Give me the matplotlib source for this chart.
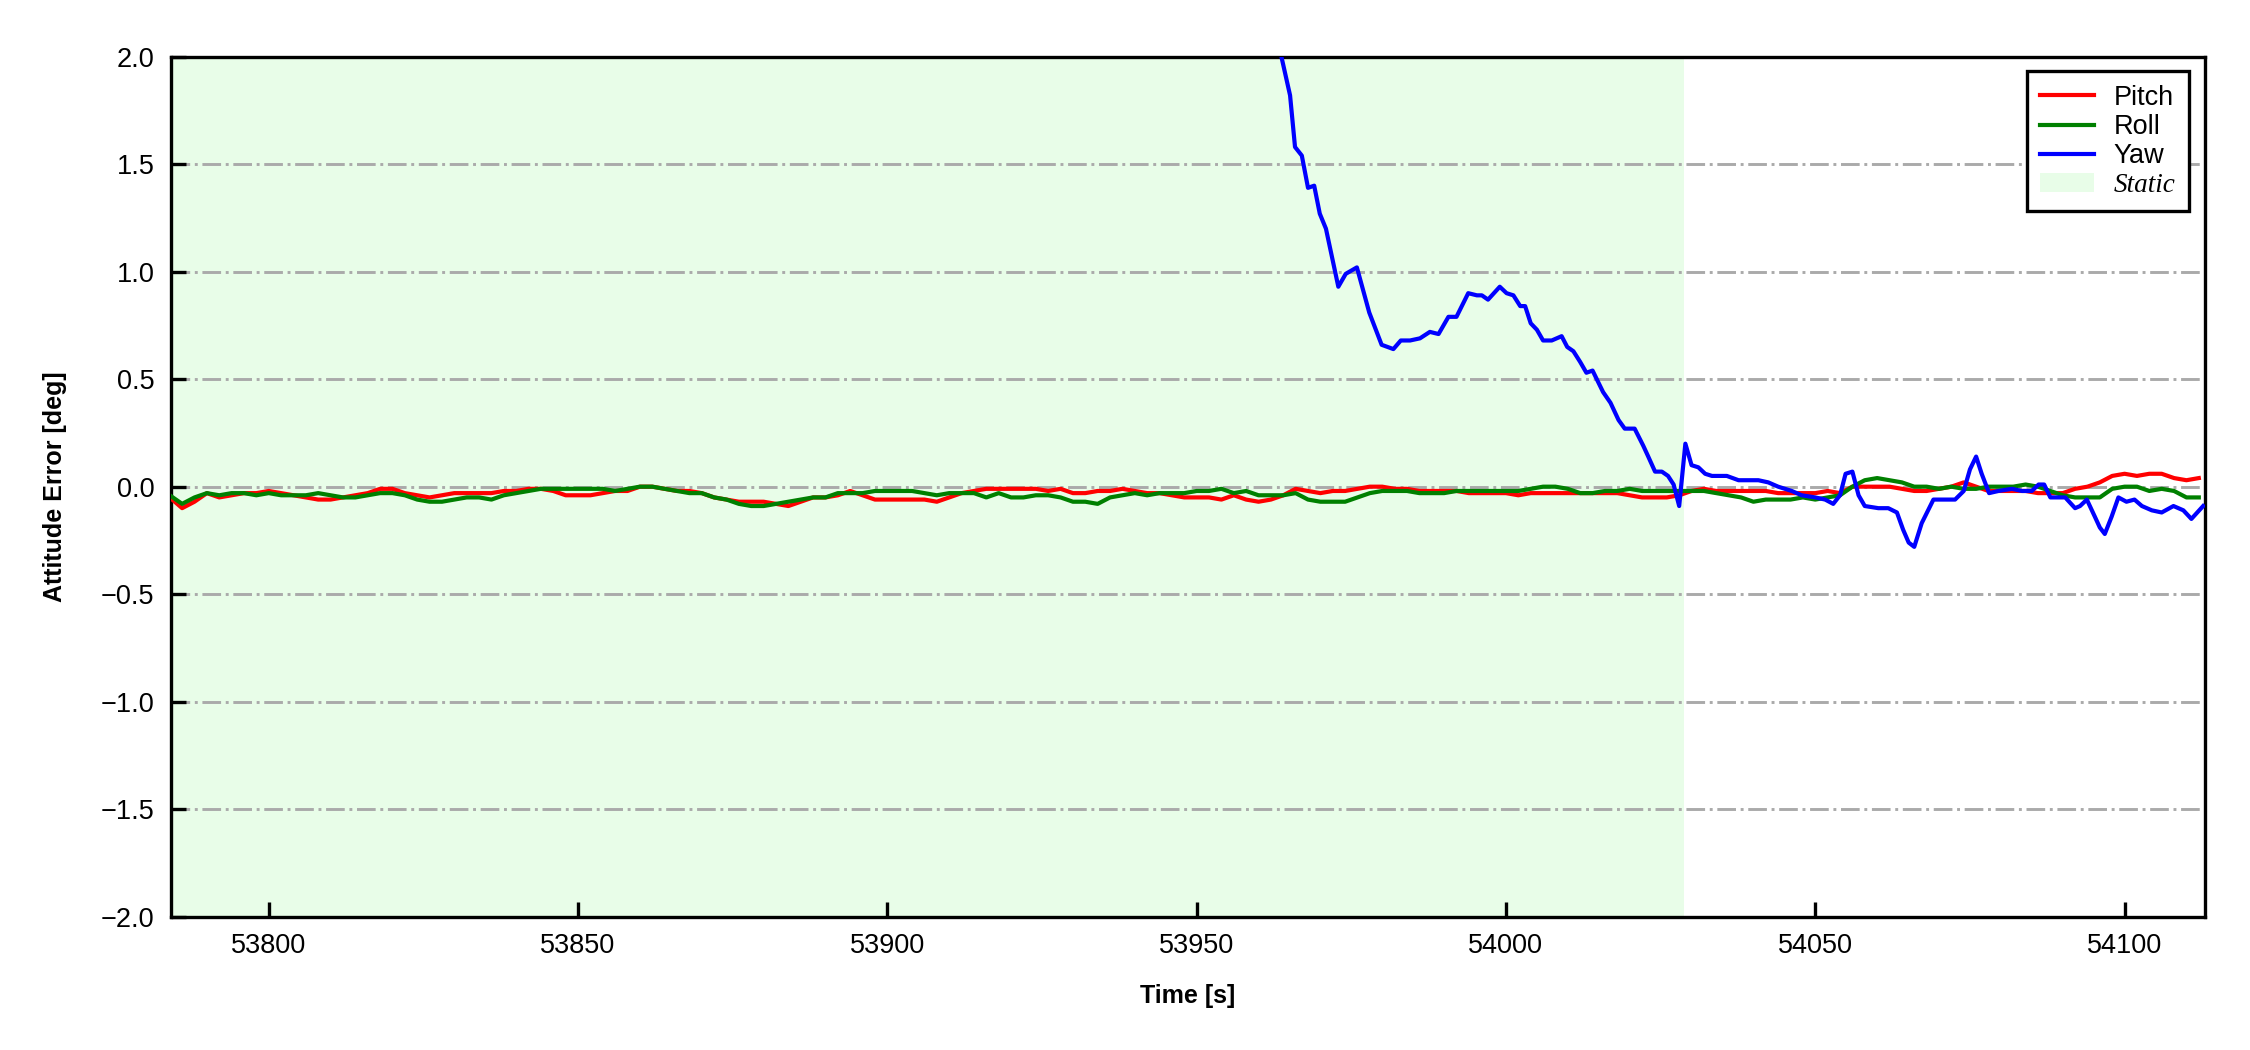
import numpy as np
import matplotlib
matplotlib.use('Agg')
import matplotlib.pyplot as plt

plt.rcParams['font.family'] = ['Liberation Sans', 'DejaVu Sans']

# pitch / roll sampled every 2 s
t_pr = np.arange(53784, 54113, 2)
pitch = [
    -0.05, -0.10, -0.07, -0.03, -0.05, -0.04, -0.03, -0.03, -0.02, -0.03,
    -0.04, -0.05, -0.06, -0.06, -0.05, -0.04, -0.03, -0.01, -0.01, -0.03,
    -0.04, -0.05, -0.04, -0.03, -0.03, -0.03, -0.03, -0.02,
    -0.02, -0.01, -0.01, -0.02, -0.04, -0.04, -0.04, -0.03, -0.02, -0.02,
    0.00, 0.00, -0.01, -0.02, -0.02, -0.03, -0.05, -0.06, -0.07, -0.07,
    -0.07, -0.08, -0.09, -0.07, -0.05, -0.05, -0.04,
    -0.02, -0.04, -0.06, -0.06, -0.06, -0.06, -0.06, -0.07, -0.05, -0.03,
    -0.02, -0.01, -0.01, -0.01, -0.01, -0.01, -0.02, -0.01, -0.03, -0.03,
    -0.02, -0.02, -0.01, -0.02, -0.03, -0.03, -0.04,
    -0.05, -0.05, -0.05, -0.06, -0.04, -0.06, -0.07, -0.06, -0.04, -0.01,
    -0.02, -0.03, -0.02, -0.02, -0.01, 0.00, 0.00, -0.01, -0.01, -0.02,
    -0.02, -0.02, -0.02, -0.03, -0.03, -0.03, -0.03, -0.04,
    -0.03, -0.03, -0.03, -0.03, -0.03, -0.03, -0.03, -0.03, -0.04, -0.05,
    -0.05, -0.05, -0.04, -0.02, -0.01, -0.02, -0.02, -0.02, -0.02, -0.02,
    -0.03, -0.03, -0.03, -0.03, -0.02, -0.03, 0.00,
    0.00, 0.00, 0.00, -0.01, -0.02, -0.02, -0.01, 0.00, 0.02, 0.00,
    -0.02, -0.02, -0.02, -0.02, -0.03, -0.03, -0.03, -0.01, 0.00, 0.02,
    0.05, 0.06, 0.05, 0.06, 0.06, 0.04, 0.03, 0.04,
]
roll = [
    -0.04, -0.08, -0.05, -0.03, -0.04, -0.03, -0.03, -0.04, -0.03, -0.04,
    -0.04, -0.04, -0.03, -0.04, -0.05, -0.05, -0.04, -0.03, -0.03, -0.04,
    -0.06, -0.07, -0.07, -0.06, -0.05, -0.05, -0.06, -0.04,
    -0.03, -0.02, -0.01, -0.01, -0.01, -0.01, -0.01, -0.01, -0.02, -0.01,
    0.00, 0.00, -0.01, -0.02, -0.03, -0.03, -0.05, -0.06, -0.08, -0.09,
    -0.09, -0.08, -0.07, -0.06, -0.05, -0.05, -0.03,
    -0.03, -0.03, -0.02, -0.02, -0.02, -0.02, -0.03, -0.04, -0.03, -0.03,
    -0.03, -0.05, -0.03, -0.05, -0.05, -0.04, -0.04, -0.05, -0.07, -0.07,
    -0.08, -0.05, -0.04, -0.03, -0.04, -0.03, -0.03,
    -0.03, -0.02, -0.02, -0.01, -0.03, -0.02, -0.04, -0.04, -0.04, -0.03,
    -0.06, -0.07, -0.07, -0.07, -0.05, -0.03, -0.02, -0.02, -0.02, -0.03,
    -0.03, -0.03, -0.02, -0.02, -0.02, -0.02, -0.02, -0.02,
    -0.01, 0.00, 0.00, -0.01, -0.03, -0.03, -0.02, -0.02, -0.01, -0.02,
    -0.02, -0.02, -0.02, -0.02, -0.02, -0.03, -0.04, -0.05, -0.07, -0.06,
    -0.06, -0.06, -0.05, -0.06, -0.05, -0.04, 0.00,
    0.03, 0.04, 0.03, 0.02, 0.00, 0.00, -0.01, 0.00, -0.01, -0.01,
    0.00, 0.00, 0.00, 0.01, 0.00, -0.02, -0.04, -0.05, -0.05, -0.05,
    -0.01, 0.00, 0.00, -0.02, -0.01, -0.02, -0.05, -0.05,
]

t_yaw = [
    53962.5, 53963.7, 53965.1, 53965.9, 53967.0, 53968.0, 53969.0, 53969.9,
    53970.9, 53972.9, 53974.1, 53975.9, 53977.9, 53979.9, 53981.8, 53983.0,
    53984.5, 53986.1, 53987.7, 53989.1, 53990.7, 53992.0, 53993.9, 53995.3,
    53996.1, 53997.1, 53999.0, 54000.1, 54001.2, 54002.3, 54003.1, 54004.0,
    54005.0, 54006.0, 54007.4, 54009.0, 54009.9, 54010.9, 54012.0, 54013.0,
    54014.0, 54015.7, 54016.9, 54018.2, 54019.2, 54020.8, 54022.2, 54023.0,
    54024.1, 54025.2, 54026.2, 54027.1, 54028.0, 54029.0, 54030.0, 54031.1,
    54032.2, 54033.3, 54035.7, 54037.6, 54038.6, 54040.8, 54042.4, 54044.0,
    54045.1, 54046.2, 54047.8, 54050.0, 54051.6, 54052.9, 54054.0, 54054.9,
    54056.0, 54057.0, 54058.0, 54060.2, 54061.8, 54063.2, 54064.2, 54065.1,
    54066.0, 54067.2, 54069.1, 54071.0, 54072.6, 54074.0, 54075.0, 54076.0,
    54076.9, 54078.1, 54079.6, 54081.8, 54083.4, 54085.0, 54086.1, 54087.0,
    54088.0, 54090.4, 54092.0, 54092.8, 54093.9, 54095.2, 54096.0, 54096.8,
    54097.9, 54099.0, 54100.3, 54101.6, 54102.8, 54104.4, 54106.0, 54107.9,
    54109.5, 54110.8, 54112.7,
]
yaw = [
    2.16, 2.00, 1.82, 1.58, 1.54, 1.39, 1.40, 1.27,
    1.20, 0.93, 0.99, 1.02, 0.81, 0.66, 0.64, 0.68,
    0.68, 0.69, 0.72, 0.71, 0.79, 0.79, 0.90, 0.89,
    0.89, 0.87, 0.93, 0.90, 0.89, 0.84, 0.84, 0.76,
    0.73, 0.68, 0.68, 0.70, 0.65, 0.63, 0.58, 0.53,
    0.54, 0.44, 0.39, 0.31, 0.27, 0.27, 0.19, 0.14,
    0.07, 0.07, 0.05, 0.01, -0.09, 0.20, 0.10, 0.09,
    0.06, 0.05, 0.05, 0.03, 0.03, 0.03, 0.02, 0.00,
    -0.01, -0.02, -0.04, -0.05, -0.06, -0.08, -0.04, 0.06,
    0.07, -0.04, -0.09, -0.10, -0.10, -0.12, -0.20, -0.26,
    -0.28, -0.17, -0.06, -0.06, -0.06, -0.02, 0.08, 0.14,
    0.06, -0.03, -0.02, -0.01, -0.02, -0.02, 0.01, 0.01,
    -0.05, -0.05, -0.10, -0.09, -0.06, -0.14, -0.19, -0.22,
    -0.14, -0.05, -0.07, -0.06, -0.09, -0.11, -0.12, -0.09,
    -0.11, -0.15, -0.09,
]

static_end = 54028.8
xlim = (53784.2, 54113.0)

fig, ax = plt.subplots(figsize=(7.5, 3.5), dpi=300)
fig.subplots_adjust(left=0.076, right=0.980, top=0.946, bottom=0.127)

ax.axvspan(53700, static_end, color='#e8fde8', lw=0, zorder=0, label='Static')
ax.plot(t_pr, pitch, color='red', lw=1.0, label='Pitch', zorder=3)
ax.plot(t_pr, roll, color='green', lw=1.0, label='Roll', zorder=3)
ax.plot(t_yaw, yaw, color='blue', lw=1.0, label='Yaw', zorder=3)

ax.set_xlim(*xlim)
ax.set_ylim(-2.0, 2.0)
ax.set_yticks(np.arange(-2.0, 2.01, 0.5))
ax.set_xticks([53800, 53850, 53900, 53950, 54000, 54050, 54100])
ax.yaxis.grid(True, ls='-.', color='#aaaaaa', lw=0.7, zorder=1)
ax.set_axisbelow(True)
ax.tick_params(direction='in', length=3.5, width=0.8, labelsize=6.5, pad=4)
for s in ax.spines.values():
    s.set_linewidth(0.8)

ax.set_xlabel('Time [s]', fontsize=6, fontweight='bold', labelpad=6)
ax.set_ylabel('Attitude Error [deg]', fontsize=6, fontweight='bold', labelpad=8)

h, l = ax.get_legend_handles_labels()
order = [1, 2, 3, 0]
leg = ax.legend([h[i] for i in order], [l[i] for i in order], loc='upper right',
                fontsize=6.5, fancybox=False, edgecolor='black', framealpha=1,
                handlelength=2.0, handletextpad=0.7, labelspacing=0.12,
                borderpad=0.5, borderaxespad=0,
                bbox_to_anchor=(0.992, 0.983))
leg.get_frame().set_linewidth(0.8)
leg.get_texts()[3].set_family(['Liberation Serif', 'DejaVu Serif'])
leg.get_texts()[3].set_style('italic')

fig.savefig('out.png', dpi=300)
